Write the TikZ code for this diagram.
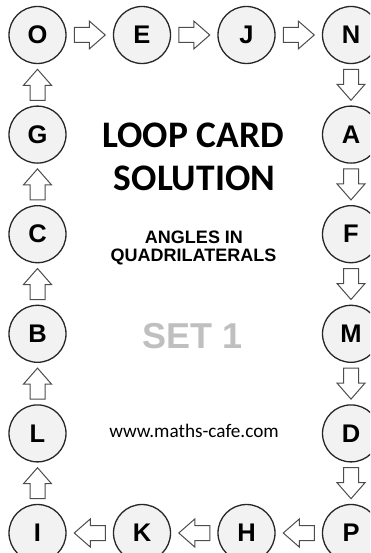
\documentclass[tikz,border=0pt]{standalone}
\usepackage{fontspec}
\setmainfont{Liberation Sans}
\newfontfamily\calibri{Carlito}
\usetikzlibrary{calc}
\definecolor{circfill}{HTML}{F2F2F2}
\definecolor{setgray}{HTML}{BFBFBF}
\definecolor{arrline}{HTML}{4D4D4D}
\tikzset{
  card/.style={circle, draw=black!85, line width=1.3pt, fill=circfill,
    minimum size=57pt, inner sep=0pt, font=\fontsize{25.5}{25.5}\selectfont\bfseries},
  blockarr/.style={draw=arrline, line width=1pt, fill=white, line join=miter},
  title/.style={anchor=base, inner sep=0pt, font=\calibri\bfseries\fontsize{37.5}{40}\selectfont},
  subtitle/.style={anchor=base, inner sep=0pt, font=\bfseries\fontsize{18}{18}\selectfont},
}
\newcommand\blockarrow[3]{%
  \draw[blockarr, shift={($(#1)!0.5!(#2)$)}, rotate=#3]
    (-15.5,-7.5) -- (-0.5,-7.5) -- (-0.5,-14) -- (15.5,0) -- (-0.5,14)
    -- (-0.5,7.5) -- (-15.5,7.5) -- cycle;}
\begin{document}
\begin{tikzpicture}[x=1pt,y=-1pt]
\useasboundingbox (0,0) rectangle (370,553);
\clip (0,0) rectangle (370,553);
% top row
\node[card] (O) at (37.5,35) {O};
\node[card] (E) at (142,35) {E};
\node[card] (J) at (246.5,35) {J};
\node[card] (N) at (351,35) {N};
% right column
\node[card] (A) at (351,134.6) {A};
\node[card] (F) at (351,234.2) {F};
\node[card] (M) at (351,333.8) {M};
\node[card] (D) at (351,433.4) {D};
\node[card] (P) at (351,533) {P};
% bottom row
\node[card] (H) at (246.5,533) {H};
\node[card] (K) at (142,533) {K};
\node[card] (I) at (37.5,533) {I};
% left column
\node[card] (L) at (37.5,433.4) {L};
\node[card] (B) at (37.5,333.8) {B};
\node[card] (C) at (37.5,234.2) {C};
\node[card] (G) at (37.5,134.6) {G};
% arrows
\blockarrow{O}{E}{0}
\blockarrow{E}{J}{0}
\blockarrow{J}{N}{0}
\blockarrow{N}{A}{-90}
\blockarrow{A}{F}{-90}
\blockarrow{F}{M}{-90}
\blockarrow{M}{D}{-90}
\blockarrow{D}{P}{-90}
\blockarrow{P}{H}{180}
\blockarrow{H}{K}{180}
\blockarrow{K}{I}{180}
\blockarrow{I}{L}{90}
\blockarrow{L}{B}{90}
\blockarrow{B}{C}{90}
\blockarrow{C}{G}{90}
\blockarrow{G}{O}{90}
% centre texts
\node[title] (t1) at (193,148) {LOOP CARD};
\node[title] (t2) at (194.5,191) {SOLUTION};
\node[subtitle] (t3) at (194,243) {ANGLES IN};
\node[subtitle] (t4) at (193.5,261) {QUADRILATERALS};
\node[anchor=base, inner sep=0pt, text=setgray, font=\bfseries\fontsize{36}{36}\selectfont] (t5) at (192.5,348) {SET 1};
\node[anchor=base, inner sep=0pt, font=\calibri\fontsize{19.2}{20}\selectfont] (t6) at (194,437) {www.maths-cafe.com};
\end{tikzpicture}
\end{document}
